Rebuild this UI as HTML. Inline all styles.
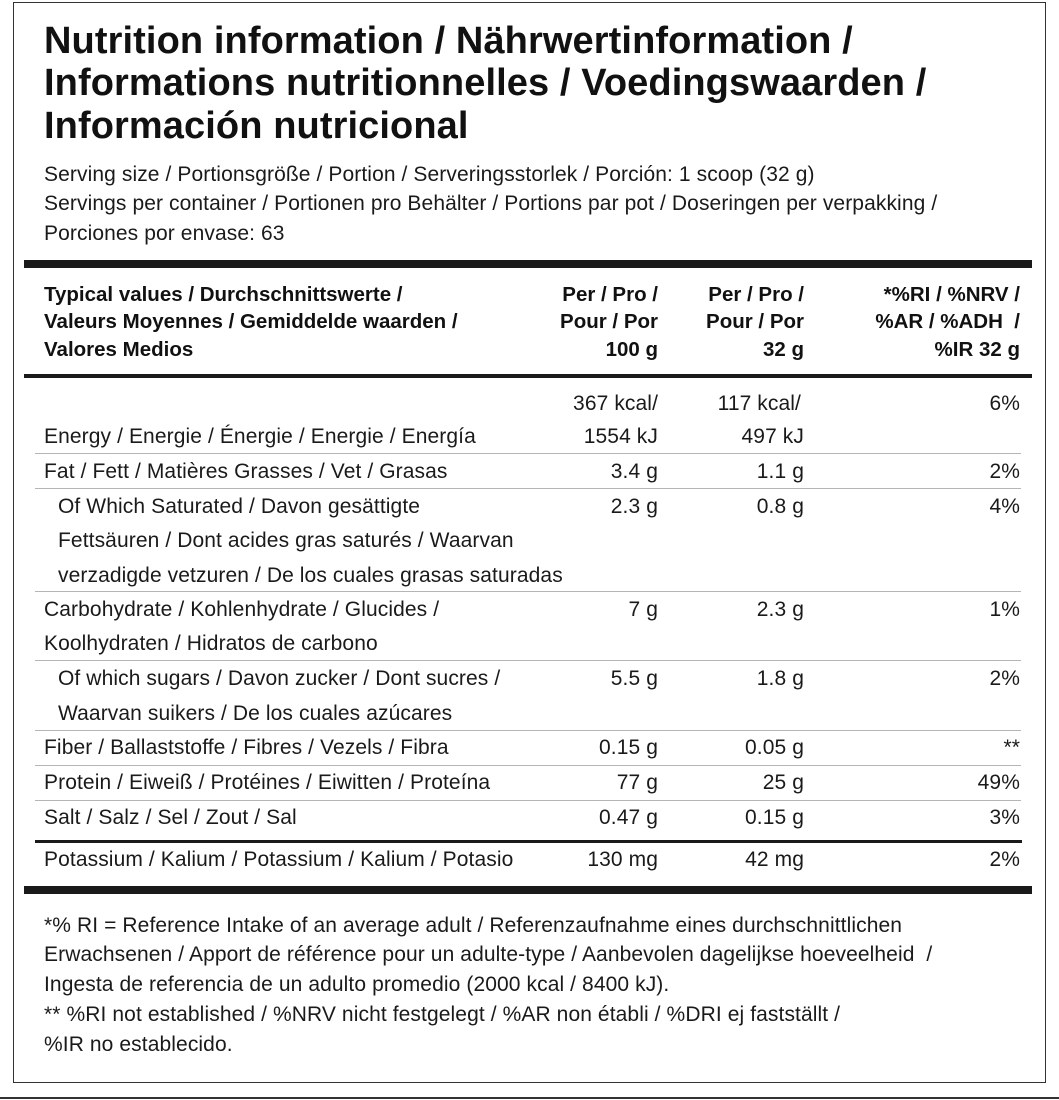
<!DOCTYPE html>
<html><head><meta charset="utf-8"><style>
body{margin:0;background:#fff;width:1059px;height:1100px;position:relative;overflow:hidden;font-family:"Liberation Sans",sans-serif;color:#1a1a1a}
.box{position:absolute;left:13px;top:2px;width:1031px;height:1079px;border:1.5px solid #333}
.bot{position:absolute;left:0;top:1097px;width:1059px;height:2px;background:#333}
.t{position:absolute;left:44px;font-weight:bold;font-size:38px;height:42px;line-height:42px;white-space:nowrap;color:#111;letter-spacing:0.1px}
.s{position:absolute;font-size:21px;height:30px;line-height:30px;white-space:nowrap;letter-spacing:0.1px}
.h{position:absolute;font-size:20.5px;font-weight:bold;height:28px;line-height:28px;white-space:nowrap;color:#111}
.L{left:44px}.L2{left:58px}
.c1{right:401px;text-align:right}.c2{right:255px;text-align:right}.c3{right:39px;text-align:right}
.bar{position:absolute;background:#1a1a1a}
.thin{position:absolute;left:35px;width:986px;height:1px;background:#b5b5b5}
</style></head><body>
<div class="box"></div><div class="bot"></div>
<div class="t" style="top:20px">Nutrition information / Nährwertinformation /</div>
<div class="t" style="top:62px">Informations nutritionnelles / Voedingswaarden /</div>
<div class="t" style="top:105px">Información nutricional</div>
<div class="s L" style="top:160px">Serving size / Portionsgröße / Portion / Serveringsstorlek / Porción: 1 scoop (32 g)</div>
<div class="s L" style="top:189px">Servings per container / Portionen pro Behälter / Portions par pot / Doseringen per verpakking /</div>
<div class="s L" style="top:219px">Porciones por envase: 63</div>
<div class="bar" style="left:24px;top:260px;width:1008px;height:8px"></div>
<div class="h L" style="top:281px">Typical values / Durchschnittswerte /</div>
<div class="h L" style="top:308px">Valeurs Moyennes / Gemiddelde waarden /</div>
<div class="h L" style="top:336px">Valores Medios</div>
<div class="h c1" style="top:281px">Per / Pro /</div>
<div class="h c1" style="top:308px">Pour / Por</div>
<div class="h c1" style="top:336px">100 g</div>
<div class="h c2" style="top:281px">Per / Pro /</div>
<div class="h c2" style="top:308px">Pour / Por</div>
<div class="h c2" style="top:336px">32 g</div>
<div class="h c3" style="top:281px">*%RI / %NRV /</div>
<div class="h c3" style="top:308px">%AR / %ADH&nbsp;&nbsp;/</div>
<div class="h c3" style="top:336px">%IR 32 g</div>
<div class="bar" style="left:24px;top:374px;width:1008px;height:4px"></div>

<div class="s c1" style="top:389px">367 kcal/</div><div class="s c2" style="top:389px;right:258px">117 kcal/</div><div class="s c3" style="top:389px">6%</div>
<div class="s L" style="top:422px">Energy / Energie / Énergie / Energie / Energía</div><div class="s c1" style="top:422px">1554 kJ</div><div class="s c2" style="top:422px">497 kJ</div>
<div class="thin" style="top:453px"></div>
<div class="s L" style="top:457px">Fat / Fett / Matières Grasses / Vet / Grasas</div><div class="s c1" style="top:457px">3.4 g</div><div class="s c2" style="top:457px">1.1 g</div><div class="s c3" style="top:457px">2%</div>
<div class="thin" style="top:488px"></div>
<div class="s L2" style="top:492px">Of Which Saturated / Davon gesättigte</div><div class="s c1" style="top:492px">2.3 g</div><div class="s c2" style="top:492px">0.8 g</div><div class="s c3" style="top:492px">4%</div>
<div class="s L2" style="top:526px">Fettsäuren / Dont acides gras saturés / Waarvan</div>
<div class="s L2" style="top:561px">verzadigde vetzuren / De los cuales grasas saturadas</div>
<div class="thin" style="top:591px"></div>
<div class="s L" style="top:595px">Carbohydrate / Kohlenhydrate / Glucides /</div><div class="s c1" style="top:595px">7 g</div><div class="s c2" style="top:595px">2.3 g</div><div class="s c3" style="top:595px">1%</div>
<div class="s L" style="top:629px">Koolhydraten / Hidratos de carbono</div>
<div class="thin" style="top:660px"></div>
<div class="s L2" style="top:664px">Of which sugars / Davon zucker / Dont sucres /</div><div class="s c1" style="top:664px">5.5 g</div><div class="s c2" style="top:664px">1.8 g</div><div class="s c3" style="top:664px">2%</div>
<div class="s L2" style="top:699px">Waarvan suikers / De los cuales azúcares</div>
<div class="thin" style="top:730px"></div>
<div class="s L" style="top:733px">Fiber / Ballaststoffe / Fibres / Vezels / Fibra</div><div class="s c1" style="top:733px">0.15 g</div><div class="s c2" style="top:733px">0.05 g</div><div class="s c3" style="top:733px">**</div>
<div class="thin" style="top:765px"></div>
<div class="s L" style="top:768px">Protein / Eiweiß / Protéines / Eiwitten / Proteína</div><div class="s c1" style="top:768px">77 g</div><div class="s c2" style="top:768px">25 g</div><div class="s c3" style="top:768px">49%</div>
<div class="thin" style="top:800px"></div>
<div class="s L" style="top:803px">Salt / Salz / Sel / Zout / Sal</div><div class="s c1" style="top:803px">0.47 g</div><div class="s c2" style="top:803px">0.15 g</div><div class="s c3" style="top:803px">3%</div>
<div class="bar" style="left:35px;top:840px;width:987px;height:3px"></div>
<div class="s L" style="top:845px">Potassium / Kalium / Potassium / Kalium / Potasio</div><div class="s c1" style="top:845px">130 mg</div><div class="s c2" style="top:845px">42 mg</div><div class="s c3" style="top:845px">2%</div>
<div class="bar" style="left:24px;top:886px;width:1008px;height:8px"></div>

<div class="s L" style="top:911px">*% RI = Reference Intake of an average adult / Referenzaufnahme eines durchschnittlichen</div>
<div class="s L" style="top:940px">Erwachsenen / Apport de référence pour un adulte-type / Aanbevolen dagelijkse hoeveelheid&nbsp; /</div>
<div class="s L" style="top:970px">Ingesta de referencia de un adulto promedio (2000 kcal / 8400 kJ).</div>
<div class="s L" style="top:1000px">** %RI not established / %NRV nicht festgelegt / %AR non établi / %DRI ej fastställt /</div>
<div class="s L" style="top:1030px">%IR no establecido.</div>
</body></html>
